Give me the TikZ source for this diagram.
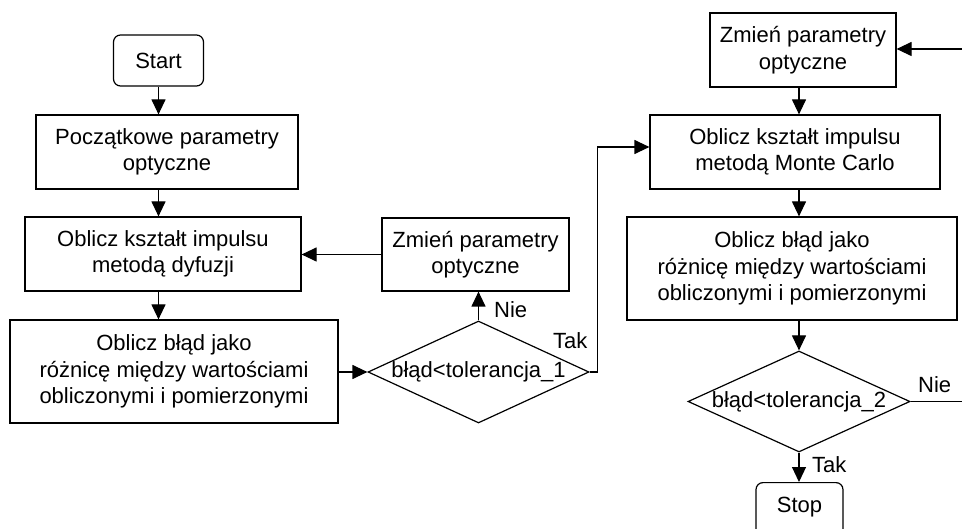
\documentclass[tikz,border=0pt]{standalone}
\usepackage{fontspec}
\setmainfont{Liberation Sans}
\usetikzlibrary{shapes.geometric,arrows.meta}
\begin{document}
\begin{tikzpicture}[x=1pt,y=-1pt,
  every node/.style={font=\fontsize{22}{26.5}\selectfont, inner sep=0pt},
  proc/.style={draw, rectangle, align=center, line width=1.2pt},
  term/.style={draw, rectangle, rounded corners=7pt, line width=1.2pt},
  decide/.style={draw, diamond, line width=1.2pt},
  flow/.style={line width=1.2pt, -{Triangle[length=15pt,width=14pt]}},
  link/.style={line width=1.2pt}]
\clip (0,0) rectangle (962,529);
\useasboundingbox (0,0) rectangle (962,529);

% left column: diffusion stage
\node[term, minimum width=90pt, minimum height=51pt] (start) at (158.5,60.5) {Start};
\node[proc, minimum width=262pt, minimum height=74pt] (init) at (167,152) {Początkowe parametry\\optyczne};
\node[proc, minimum width=276pt, minimum height=74pt] (diff) at (163,254) {Oblicz kształt impulsu\\metodą dyfuzji};
\node[proc, minimum width=328pt, minimum height=103pt] (err1) at (174,371.5) {Oblicz błąd jako\\różnicę między wartościami\\obliczonymi i pomierzonymi};
\node[decide, minimum width=221pt, minimum height=102pt] (d1) at (478.5,372) {\makebox[0pt]{błąd<tolerancja\_1}};
\node[proc, minimum width=187pt, minimum height=73pt] (chg1) at (475.5,254.5) {Zmień parametry\\optyczne};

% right column: Monte Carlo stage
\node[proc, minimum width=186pt, minimum height=74pt] (chg2) at (803,50) {Zmień parametry\\optyczne};
\node[proc, minimum width=290pt, minimum height=74pt] (mc) at (795,152) {Oblicz kształt impulsu\\metodą Monte Carlo};
\node[proc, minimum width=330pt, minimum height=103pt] (err2) at (792,268.5) {Oblicz błąd jako\\różnicę między wartościami\\obliczonymi i pomierzonymi};
\node[decide, minimum width=222pt, minimum height=101pt] (d2) at (799,401.5) {\makebox[0pt]{błąd<tolerancja\_2}};
\node[term, minimum width=87pt, text height=30pt, text depth=40pt, anchor=north] (stop) at (799.5,482) {Stop};

\coordinate (in2) at (962,49);
\coordinate (out2) at (962,401.5);
\coordinate (mcin) at ([yshift=5pt]mc.west);

% connectors
\draw[flow] (start.south) -- (start.south |- init.north);
\draw[flow] (init.south -| start.south) -- (diff.north -| start.south);
\draw[flow] (diff.south -| start.south) -- (err1.north -| start.south);
\draw[flow] (err1.east |- d1.west) -- (d1.west);
\draw[flow] (d1.north) -- (chg1.south -| d1.north);
\draw[flow] (chg1.west) -- (chg1.west -| diff.east);
\draw[flow] (d1.east) -- ++(8,0) |- (mcin);
\draw[flow] (in2) -- (in2 -| chg2.east);
\draw[flow] (chg2.south -| d2.north) -- (mc.north -| d2.north);
\draw[flow] (mc.south -| d2.north) -- (err2.north -| d2.north);
\draw[flow] (err2.south -| d2.north) -- (d2.north);
\draw[link] (d2.east) -- (out2);
\draw[flow] (d2.south) -- (stop.north -| d2.south);

% branch labels
\node[anchor=base west] (nie1) at (494,318) {Nie};
\node[anchor=base west] (tak1) at (553,349) {Tak};
\node[anchor=base west] (nie2) at (918,393) {Nie};
\node[anchor=base west] (tak2) at (812,472) {Tak};
\end{tikzpicture}
\end{document}
